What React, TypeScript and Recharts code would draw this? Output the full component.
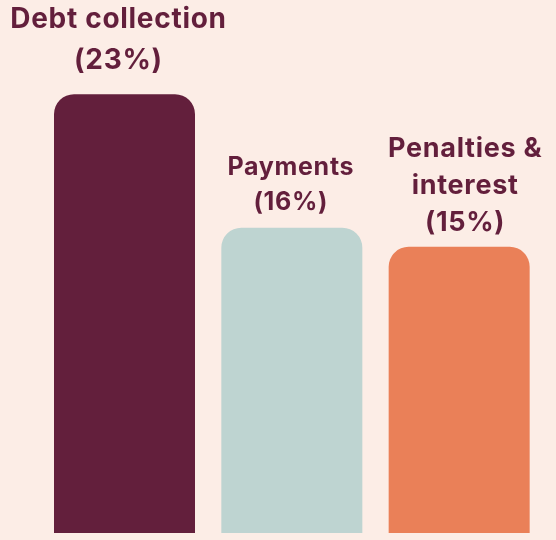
import { Bar, BarChart, Cell, LabelList, XAxis, YAxis } from 'recharts'

const categories = ['Debt collection', 'Payments', 'Penalties & interest']
const shares = [23, 16, 15]
const labelLines = [['Debt collection'], ['Payments'], ['Penalties &', 'interest']]
const colors = ['#631f3c', '#bed4d1', '#ea8058']

const textColor = '#631f3c'
const fontSizes = [28, 25, 27]
const lineGaps = [41, 35, 37]
const bottomGaps = [25, 18, 16]
const shiftX = [-6, -1, 6]

const data = categories.map((name, i) => ({ name, share: shares[i] }))

// multi-line label sitting above each bar
const renderLabel = (props: any) => {
  const { x, y, width, index, value } = props
  const cx = Number(x) + Number(width) / 2 + shiftX[index]
  const lines = [...labelLines[index], `(${value}%)`]
  const size = fontSizes[index]
  const gap = lineGaps[index]
  const lastY = Number(y) - bottomGaps[index]
  return (
    <text
      textAnchor="middle"
      fill={textColor}
      fontSize={size}
      fontWeight={700}
      letterSpacing={0.7}
      fontFamily="Inter, sans-serif"
    >
      {lines.map((line, i) => (
        <tspan key={i} x={cx} y={lastY - (lines.length - 1 - i) * gap}>
          {line}
        </tspan>
      ))}
    </text>
  )
}

export default function App() {
  return (
    <>
      <div style={{ position: 'fixed', inset: 0, background: '#fcede6' }} />
      <div style={{ position: 'absolute', left: 0, top: 0 }}>
        <BarChart
          width={556}
          height={540}
          data={data}
          margin={{ top: 56, right: 13, left: 41, bottom: 7 }}
        >
          <XAxis dataKey="name" hide />
          <YAxis hide domain={[0, 25]} />
          <Bar
            dataKey="share"
            barSize={141}
            radius={[20, 20, 0, 0]}
            isAnimationActive={false}
          >
            {data.map((d, i) => (
              <Cell key={d.name} fill={colors[i]} />
            ))}
            <LabelList dataKey="share" content={renderLabel} />
          </Bar>
        </BarChart>
      </div>
    </>
  )
}
